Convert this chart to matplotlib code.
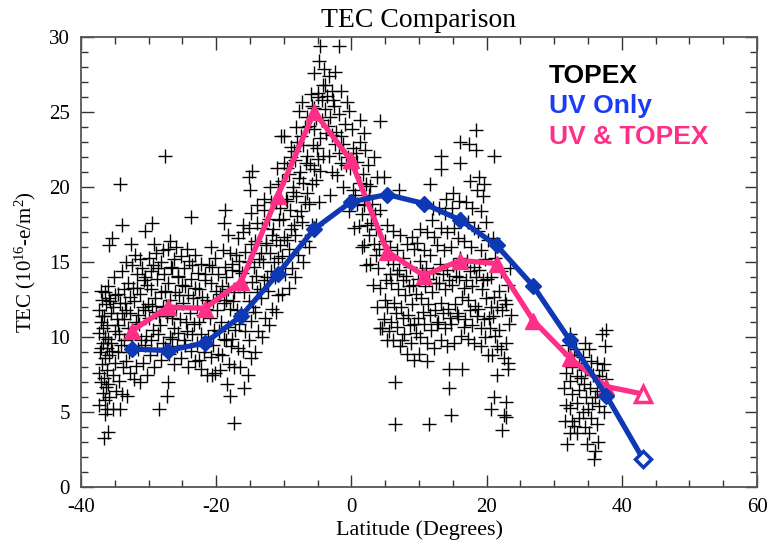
import matplotlib
matplotlib.use("Agg")
import matplotlib.pyplot as plt
from matplotlib.ticker import MultipleLocator

plt.rcParams['font.family'] = ['Liberation Serif', 'DejaVu Serif']
plt.rcParams['mathtext.fontset'] = 'custom'
plt.rcParams['mathtext.rm'] = 'Liberation Serif'
plt.rcParams['mathtext.it'] = 'Liberation Serif:italic'
plt.rcParams['axes.unicode_minus'] = False

# Model profiles along the latitude grid
model_lat = [-32.5, -27.1, -21.7, -16.3, -10.9, -5.5, -0.1, 5.3, 10.7, 16.1,
             21.5, 26.9, 32.3, 37.7, 43.1]
uv_only = [9.2, 9.1, 9.6, 11.4, 14.2, 17.2, 19.0, 19.5, 18.9, 17.8,
           16.1, 13.4, 9.8, 6.1, 1.9]
uv_topex = [10.4, 12.0, 11.9, 13.7, 19.4, 25.0, 21.8, 15.7, 14.1, 15.1,
            14.9, 11.1, 8.6, 6.7, 6.2]

# TOPEX altimeter TEC samples (latitude, TEC)
topex_south = [
    (-37.4, 5.5), (-36.8, 6.3), (-37.1, 7.0), (-37.3, 7.6), (-36.9, 8.2), (-37.2, 9.0),
    (-36.8, 9.6), (-37.4, 10.3), (-37.0, 11.0), (-37.3, 11.8), (-36.9, 12.5), (-37.1, 13.1),
    (-36.6, 3.3), (-36.0, 3.7), (-36.4, 4.9), (-36.1, 5.2), (-36.5, 5.8), (-35.9, 6.0),
    (-36.3, 6.7), (-36.0, 6.9), (-36.6, 7.3), (-36.2, 7.8), (-36.5, 8.6), (-35.9, 8.8),
    (-36.2, 9.3), (-36.0, 9.9), (-36.4, 10.0), (-36.1, 10.8), (-36.6, 11.4), (-36.3, 12.2),
    (-35.9, 12.6), (-36.4, 13.0), (-36.0, 13.4), (-35.9, 16.1), (-35.4, 16.6),
    (-35.3, 5.2), (-34.8, 6.4), (-35.2, 7.5), (-34.9, 8.3), (-35.4, 9.1), (-35.0, 10.4),
    (-34.7, 11.2), (-35.2, 12.0), (-34.9, 12.8), (-35.1, 14.0), (-34.0, 17.5), (-34.2, 20.2),
    (-34.2, 5.2), (-33.9, 6.2), (-34.4, 7.1), (-33.8, 8.0), (-34.1, 9.5), (-34.4, 10.2),
    (-33.9, 11.6), (-34.2, 12.3), (-33.7, 13.2), (-34.0, 14.4),
    (-33.2, 6.1), (-32.8, 7.6), (-33.4, 8.4), (-32.9, 9.0), (-33.1, 10.6), (-33.4, 11.8),
    (-32.8, 12.7), (-33.0, 13.6), (-33.3, 15.0), (-32.6, 16.2),
    (-32.2, 7.2), (-31.8, 8.1), (-32.4, 9.4), (-31.9, 11.0), (-32.1, 12.4), (-32.3, 13.3),
    (-31.7, 14.2), (-32.0, 15.5),
    (-31.3, 7.0), (-30.8, 8.3), (-31.1, 9.8), (-31.4, 10.9), (-30.9, 12.0), (-31.2, 12.9),
    (-30.7, 13.8), (-31.0, 14.6), (-31.3, 15.2),
    (-30.2, 7.5), (-29.8, 8.8), (-30.4, 10.1), (-29.9, 11.3), (-30.1, 12.2), (-30.3, 13.5),
    (-29.7, 14.4), (-30.0, 15.3), (-30.5, 17.1),
    (-29.2, 8.0), (-28.8, 9.2), (-29.4, 10.5), (-28.9, 11.7), (-29.1, 12.6), (-28.7, 13.9),
    (-29.3, 14.8), (-28.9, 15.6), (-29.2, 16.2), (-29.5, 17.6),
    (-28.5, 5.2), (-28.2, 8.5), (-27.8, 9.6), (-28.3, 10.8), (-27.9, 12.0), (-28.1, 13.0),
    (-27.7, 14.2), (-28.2, 15.0), (-27.9, 15.8),
    (-27.3, 6.1), (-27.2, 7.0), (-27.0, 8.9), (-26.8, 10.0), (-27.3, 11.4), (-26.9, 12.5),
    (-27.1, 13.6), (-26.7, 14.7), (-27.2, 15.9), (-26.9, 16.4), (-27.6, 22.1),
    (-26.2, 8.2), (-25.8, 9.4), (-26.3, 10.6), (-25.9, 11.9), (-26.1, 13.0), (-25.7, 14.1),
    (-26.2, 15.2), (-25.9, 16.0),
    (-25.2, 8.6), (-24.8, 9.8), (-25.3, 11.2), (-24.9, 12.3), (-25.1, 13.5), (-24.7, 14.6),
    (-25.2, 15.4),
    (-24.1, 8.0), (-23.8, 9.1), (-24.3, 10.4), (-23.9, 11.6), (-24.2, 12.8), (-23.7, 13.9),
    (-24.0, 15.1), (-24.3, 15.9), (-23.8, 18.0),
    (-23.2, 8.4), (-22.8, 9.6), (-23.3, 10.9), (-22.9, 12.1), (-23.1, 13.3), (-22.7, 14.3),
    (-23.2, 15.5),
    (-22.2, 7.9), (-21.8, 9.0), (-22.3, 10.2), (-21.9, 11.5), (-22.1, 12.7), (-21.7, 13.8),
    (-22.2, 14.9),
    (-21.4, 7.5), (-20.8, 8.7), (-21.2, 10.0), (-20.9, 11.3), (-21.3, 12.5), (-20.7, 13.6),
    (-21.1, 14.8), (-20.8, 16.0),
    (-20.6, 7.5), (-20.2, 7.6), (-19.8, 8.9), (-20.3, 10.5), (-19.9, 11.8), (-20.1, 13.1),
    (-19.7, 14.2), (-20.2, 15.3),
    (-19.4, 7.8), (-19.1, 8.8), (-18.8, 9.9), (-19.3, 11.0), (-18.9, 12.3), (-19.2, 13.4),
    (-18.7, 14.7), (-19.0, 15.8), (-18.9, 17.6), (-18.7, 18.5),
    (-18.4, 6.9), (-17.9, 6.1), (-18.1, 8.2), (-17.8, 9.4), (-18.3, 10.7), (-17.9, 11.9),
    (-18.2, 13.2), (-17.7, 14.5), (-18.0, 15.6), (-18.3, 16.8),
    (-17.4, 4.3), (-17.4, 8.0), (-16.8, 9.3), (-17.2, 10.5), (-16.9, 11.8), (-17.3, 13.0),
    (-16.7, 14.4), (-17.1, 15.5), (-16.8, 16.6),
    (-15.9, 6.6), (-16.5, 8.0), (-16.1, 9.1), (-15.8, 10.4), (-16.3, 11.6), (-15.9, 13.0),
    (-16.2, 14.3), (-15.7, 15.7), (-16.0, 17.0), (-16.1, 17.5),
    (-37.0, 9.3), (-36.7, 10.6), (-36.9, 11.4), (-35.6, 9.6), (-35.5, 11.6), (-35.7, 12.4),
    (-34.6, 9.0), (-34.5, 10.8), (-34.6, 12.9), (-33.6, 9.8), (-33.7, 11.2), (-33.5, 12.3),
    (-32.6, 10.2), (-32.7, 11.6), (-32.5, 14.8), (-31.6, 9.2), (-31.5, 11.5), (-31.7, 13.3),
    (-30.6, 9.5), (-30.5, 11.8), (-30.6, 14.0), (-29.6, 9.8), (-29.5, 12.1), (-29.6, 13.2),
    (-28.6, 10.2), (-28.5, 11.4), (-28.6, 14.6), (-27.6, 9.3), (-27.5, 12.1), (-27.6, 13.1),
    (-26.6, 9.9), (-26.5, 11.3), (-26.6, 14.6), (-25.6, 10.3), (-25.5, 12.8), (-25.6, 14.0),
    (-24.6, 9.5), (-24.5, 11.0), (-24.6, 13.4), (-23.6, 10.2), (-23.5, 12.6), (-23.6, 14.8),
    (-22.6, 8.5), (-22.5, 11.0), (-22.6, 13.2), (-21.6, 9.4), (-21.5, 11.9), (-21.6, 14.2),
    (-20.5, 9.5), (-20.4, 12.4), (-20.6, 14.7), (-19.6, 10.4), (-19.5, 12.9), (-18.6, 9.8),
    (-18.5, 12.5), (-18.6, 14.0), (-17.6, 9.9), (-17.5, 12.4), (-17.6, 14.9), (-16.6, 10.9),
    (-16.5, 13.6), (-16.6, 15.1),
]

topex_equator = [
    (-15.3, 7.5), (-14.8, 8.6), (-15.2, 9.8), (-14.9, 11.1), (-15.1, 12.4), (-14.7, 13.7),
    (-15.2, 15.0), (-14.9, 16.2), (-15.1, 17.3), (-14.8, 18.3), (-15.0, 19.8), (-15.1, 20.7),
    (-14.7, 21.1),
    (-14.2, 9.0), (-13.8, 10.4), (-14.3, 11.7), (-13.9, 13.0), (-14.1, 14.1), (-13.7, 15.2),
    (-14.2, 16.4), (-13.9, 17.6), (-14.0, 18.8), (-13.0, 19.2),
    (-13.2, 10.0), (-12.8, 11.3), (-13.3, 12.6), (-12.9, 13.8), (-13.1, 15.0), (-12.7, 16.1),
    (-13.2, 17.3), (-12.9, 18.5),
    (-12.2, 10.8), (-11.8, 11.9), (-12.3, 13.1), (-11.9, 14.4), (-12.1, 15.6), (-11.7, 16.8),
    (-12.2, 17.9), (-11.9, 19.0), (-12.0, 20.0),
    (-11.2, 11.7), (-10.8, 12.8), (-11.3, 14.0), (-10.9, 15.3), (-11.1, 16.5), (-10.7, 17.8),
    (-11.2, 19.0), (-10.9, 20.2), (-11.0, 21.3),
    (-10.3, 12.9), (-9.8, 14.2), (-10.2, 15.4), (-9.9, 16.7), (-10.1, 17.9), (-9.7, 19.2),
    (-10.2, 20.4), (-9.9, 21.6), (-10.4, 23.4), (-10.0, 23.4), (-9.0, 22.7),
    (-9.2, 13.3), (-8.8, 14.6), (-9.3, 15.9), (-8.9, 17.2), (-9.1, 18.5), (-8.7, 19.7),
    (-9.2, 20.9), (-8.9, 22.0),
    (-8.3, 14.0), (-7.9, 15.5), (-8.4, 16.8), (-8.0, 18.1), (-8.2, 19.4), (-7.8, 20.6),
    (-8.3, 21.8), (-8.0, 23.0), (-8.2, 24.0),
    (-7.2, 15.0), (-6.8, 16.4), (-7.3, 17.7), (-6.9, 19.0), (-7.1, 20.3), (-6.7, 21.6),
    (-7.2, 22.8), (-6.9, 24.0), (-7.8, 25.1), (-7.3, 25.7),
    (-6.2, 16.0), (-5.8, 17.5), (-6.3, 18.9), (-5.9, 20.2), (-6.1, 21.5), (-5.7, 22.8),
    (-6.2, 24.1), (-5.9, 25.4), (-6.0, 26.2),
    (-5.2, 17.5), (-4.8, 19.0), (-5.3, 20.5), (-4.9, 21.9), (-5.1, 22.6), (-4.7, 23.3),
    (-5.2, 24.6), (-4.9, 26.0), (-5.6, 27.6), (-4.9, 26.3),
    (-4.6, 21.1), (-4.2, 22.1), (-3.8, 23.6), (-4.3, 24.5), (-3.9, 25.2), (-4.2, 26.8),
    (-3.9, 26.8), (-4.1, 27.9), (-4.8, 28.4), (-4.6, 29.4),
    (-3.2, 19.5), (-2.8, 21.0), (-3.3, 22.1), (-2.9, 23.5), (-3.1, 24.7), (-2.7, 25.8),
    (-2.9, 26.4), (-3.3, 27.4), (-2.4, 27.7),
    (-2.2, 20.8), (-1.8, 22.3), (-2.3, 23.7), (-1.9, 24.9), (-1.6, 26.4), (-1.9, 29.4),
    (-1.3, 20.0), (-0.8, 21.5), (-1.2, 22.9), (-0.9, 24.2), (-0.6, 25.7), (-0.4, 25.1),
    (-0.3, 18.4), (0.2, 19.8), (-0.2, 21.3), (0.3, 22.6), (0.1, 23.9), (0.4, 17.3),
    (0.8, 18.9), (1.2, 20.3), (0.9, 21.7), (1.3, 23.0), (1.3, 24.5), (1.8, 23.6),
    (1.5, 16.0), (1.1, 17.4),
    (2.2, 14.8), (1.8, 16.1), (2.3, 17.5), (1.9, 18.8), (2.1, 20.2), (2.4, 21.5), (2.0, 22.5),
    (3.2, 13.5), (2.8, 14.9), (3.3, 16.2), (2.9, 17.6), (3.1, 18.9), (3.3, 22.0), (2.7, 20.1),
    (-14.5, 12.0), (-14.4, 14.7), (-13.5, 13.2), (-13.4, 15.6), (-12.5, 14.0), (-12.6, 16.3),
    (-11.5, 15.0), (-11.6, 17.2), (-10.6, 16.1), (-10.5, 18.6), (-9.5, 16.5), (-9.6, 19.1),
    (-9.5, 21.3), (-8.5, 17.5), (-8.6, 20.0), (-8.5, 22.4), (-7.5, 18.4), (-7.6, 21.0),
    (-7.5, 23.4), (-6.5, 19.6), (-6.6, 22.1), (-6.5, 24.7), (-5.5, 21.2), (-5.6, 23.9),
    (-5.5, 25.3), (-4.4, 25.8), (-3.5, 24.1), (-3.6, 26.1), (-2.5, 22.9), (-2.6, 25.4),
    (-1.5, 21.6), (-1.6, 23.4), (-0.5, 22.0), (0.6, 19.5), (0.7, 22.3), (1.6, 18.2),
    (1.7, 20.9), (2.6, 16.8), (2.6, 19.5), (3.6, 15.5), (3.5, 18.2),
]

topex_north = [
    (4.2, 10.6), (3.8, 12.0), (4.3, 13.3), (3.9, 14.6), (4.1, 15.9), (3.7, 17.2),
    (4.2, 18.5), (3.8, 20.7), (4.8, 20.7), (4.3, 24.4), (4.5, 10.6),
    (5.2, 9.8), (4.8, 11.2), (5.3, 12.0), (4.9, 12.5), (5.1, 13.8), (5.4, 15.2),
    (4.9, 16.4), (5.2, 17.5),
    (6.5, 4.2), (6.5, 7.0), (6.2, 9.8), (5.8, 11.0), (6.3, 12.3), (5.9, 13.6),
    (6.1, 14.9), (5.7, 16.0), (6.2, 17.1),
    (7.5, 9.8), (7.0, 19.8), (7.2, 9.4), (6.8, 10.7), (7.3, 12.0), (6.9, 13.2),
    (7.1, 14.5), (6.7, 15.8), (7.2, 16.8),
    (8.2, 8.9), (7.8, 10.2), (8.3, 11.5), (7.9, 12.8), (8.1, 14.1), (7.7, 15.3), (8.2, 16.2),
    (9.2, 8.5), (8.8, 9.6), (9.3, 10.9), (8.9, 12.2), (9.1, 13.5), (8.7, 14.7),
    (9.2, 15.9), (8.9, 16.7), (10.0, 8.9),
    (10.2, 10.0), (9.8, 11.3), (10.3, 12.6), (9.9, 13.9), (10.1, 15.1), (9.7, 16.3),
    (10.2, 17.2), (11.2, 8.4),
    (11.5, 4.2), (11.2, 9.6), (10.8, 10.9), (11.3, 12.2), (10.9, 13.4), (11.1, 14.6),
    (10.7, 15.8), (11.2, 17.0), (11.7, 20.2),
    (12.2, 9.3), (11.8, 10.5), (12.3, 11.8), (11.9, 13.0), (12.1, 14.3), (11.7, 15.5),
    (12.2, 16.7), (11.9, 17.8), (12.0, 18.6),
    (13.2, 9.8), (12.8, 11.0), (13.3, 12.3), (12.9, 13.6), (13.1, 14.9), (12.7, 16.1),
    (13.2, 17.3), (12.9, 18.6), (13.2, 21.2), (13.2, 22.1),
    (14.7, 4.8), (14.4, 6.6), (14.4, 7.9), (14.2, 9.4), (13.8, 10.6), (14.3, 11.9),
    (13.9, 13.2), (14.1, 14.5), (13.7, 15.8), (14.2, 17.0), (13.9, 18.3), (14.0, 19.2),
    (15.2, 9.6), (14.8, 10.9), (15.3, 12.2), (14.9, 13.5), (15.1, 14.8), (14.7, 16.0),
    (15.2, 17.3), (14.9, 18.6), (15.0, 19.6),
    (16.4, 7.9), (16.2, 10.1), (15.8, 11.4), (16.3, 12.7), (15.9, 14.0), (16.1, 15.3),
    (15.7, 16.6), (16.2, 17.9), (16.1, 21.6), (16.1, 23.0), (15.9, 19.1),
    (17.2, 9.9), (16.8, 11.2), (17.3, 12.5), (16.9, 13.8), (17.1, 15.1), (16.7, 16.4),
    (17.2, 17.7), (16.9, 19.0), (17.6, 20.4), (17.4, 22.9),
    (18.2, 9.6), (17.8, 10.8), (18.3, 12.1), (17.9, 13.4), (18.1, 14.7), (17.7, 16.0),
    (18.2, 17.3), (17.9, 18.6), (18.6, 19.8), (18.9, 20.7), (18.4, 22.5), (18.4, 23.8),
    (19.1, 9.4), (19.2, 10.6), (18.8, 11.9), (19.3, 13.2), (18.9, 14.5), (19.1, 15.8),
    (18.7, 17.1), (19.2, 18.4), (19.6, 20.2), (19.4, 19.4),
    (20.6, 5.2), (20.2, 8.8), (19.8, 10.0), (20.3, 11.3), (19.9, 12.6), (20.1, 13.9),
    (19.7, 15.2), (20.2, 16.5), (19.9, 17.7),
    (21.1, 6.0), (21.6, 7.5), (20.8, 8.8), (21.3, 10.1), (20.9, 11.4), (21.1, 12.7),
    (20.7, 14.0), (21.2, 15.3), (20.9, 16.6), (21.1, 22.1),
    (22.3, 3.8), (22.6, 4.8), (22.8, 5.7), (23.1, 7.9), (22.2, 9.2), (21.8, 10.5),
    (22.3, 11.8), (21.9, 13.1), (22.1, 14.4), (22.8, 4.7),
    (23.2, 8.3), (22.8, 9.6), (23.3, 10.9), (22.9, 12.2), (23.1, 13.5), (23.4, 14.6),
    (23.6, 11.5),
    (5.6, 10.4), (5.7, 14.2), (6.6, 11.6), (6.7, 14.2), (7.6, 11.3), (7.7, 13.8),
    (8.6, 10.8), (8.5, 13.4), (9.6, 10.3), (9.5, 12.9), (10.6, 11.7), (10.5, 14.4),
    (11.6, 11.5), (11.5, 13.9), (12.6, 10.9), (12.5, 13.6), (13.6, 11.6), (13.5, 14.2),
    (14.6, 11.3), (14.5, 13.8), (15.6, 11.6), (15.5, 14.1), (16.6, 10.7), (16.7, 13.3),
    (17.6, 11.8), (17.5, 14.4), (18.6, 11.4), (18.5, 14.0), (19.6, 11.2), (19.5, 13.8),
    (20.5, 10.6), (20.6, 12.0), (21.6, 9.4), (21.5, 12.0), (22.6, 8.6), (22.7, 12.5),
    (31.9, 2.9), (31.6, 4.4), (31.8, 5.5), (31.5, 6.6), (31.7, 7.6),
    (32.4, 3.6), (32.6, 4.4), (32.3, 5.3), (32.7, 6.2), (32.4, 7.1), (32.6, 8.0),
    (32.3, 8.8), (32.4, 10.2),
    (33.4, 3.6), (33.6, 4.6), (33.3, 5.6), (33.7, 6.5), (33.4, 7.4), (33.6, 8.3), (33.2, 9.2),
    (34.5, 4.0), (34.3, 5.0), (34.7, 6.0), (34.4, 6.9), (34.6, 7.8), (34.3, 8.7), (34.6, 9.6),
    (35.9, 1.9), (36.0, 2.4), (35.1, 3.6), (35.4, 4.6), (35.6, 5.6), (35.3, 6.6),
    (35.7, 7.5), (35.4, 8.4), (35.1, 9.2),
    (36.5, 3.0), (36.3, 4.2), (36.7, 5.4), (36.4, 6.4), (36.6, 7.4), (36.3, 8.3),
    (37.4, 5.0), (37.2, 6.2), (37.6, 7.2), (37.3, 8.2), (37.5, 9.4), (37.1, 10.2), (37.6, 10.5),
    (32.0, 9.5), (33.0, 8.8), (34.0, 7.3), (35.0, 5.2), (36.0, 6.0), (37.0, 7.8),
    (33.0, 4.1), (34.9, 2.9),
]

legend_labels = ["TOPEX", "UV Only", "UV & TOPEX"]

W, H = 779, 545
fig = plt.figure(figsize=(W / 100, H / 100), dpi=100)
ax = fig.add_axes([81 / W, 1 - 487 / H, 676 / W, 450 / H])

topex = topex_south + topex_equator + topex_north
t_lat = [p[0] for p in topex]
t_tec = [p[1] for p in topex]
ax.plot(t_lat, t_tec, linestyle='none', marker='+', markersize=10,
        markeredgewidth=1.0, color='black', zorder=2)

pink = '#ff2e86'
blue = '#0f38b4'
ax.plot(model_lat, uv_topex, color=pink, linewidth=3.8, marker='^',
        markersize=12, zorder=3)
ax.plot(model_lat[-1:], uv_topex[-1:], linestyle='none', marker='^', markersize=12,
        markerfacecolor='white', markeredgecolor=pink, markeredgewidth=2.5, zorder=3)
ax.plot(model_lat, uv_only, color=blue, linewidth=3.8, marker='D',
        markersize=8.5, zorder=4)
ax.plot(model_lat[-1:], uv_only[-1:], linestyle='none', marker='D', markersize=8.5,
        markerfacecolor='white', markeredgecolor=blue, markeredgewidth=2.5, zorder=4)

ax.set_xlim(-40, 60)
ax.set_ylim(0, 30)
ax.xaxis.set_major_locator(MultipleLocator(20))
ax.xaxis.set_minor_locator(MultipleLocator(5))
ax.yaxis.set_major_locator(MultipleLocator(5))
ax.yaxis.set_minor_locator(MultipleLocator(1))
ax.tick_params(which='both', direction='in', top=True, right=True,
               colors='#333333', labelcolor='black', width=1.0)
ax.tick_params(which='major', length=9, labelsize=15, pad=8)
ax.tick_params(which='minor', length=5)
for s in ax.spines.values():
    s.set_color('#555555')
    s.set_linewidth(1.3)

ax.set_title("TEC Comparison", fontsize=20, pad=7)
ax.set_xlabel("Latitude (Degrees)", fontsize=16, labelpad=2)
ax.set_ylabel(r"TEC (10$^{16}$-e/m$^{2}$)", fontsize=15, labelpad=8)

legend_colors = ['black', '#1c3cf4', pink]
legend_base = [83, 113, 144]
for lbl, col, yb in zip(legend_labels, legend_colors, legend_base):
    fig.text(549 / W, 1 - yb / H, lbl, color=col, fontsize=19, fontweight='bold',
             family=['Liberation Sans', 'DejaVu Sans'], va='baseline', ha='left')

fig.savefig("out.png", dpi=100)
